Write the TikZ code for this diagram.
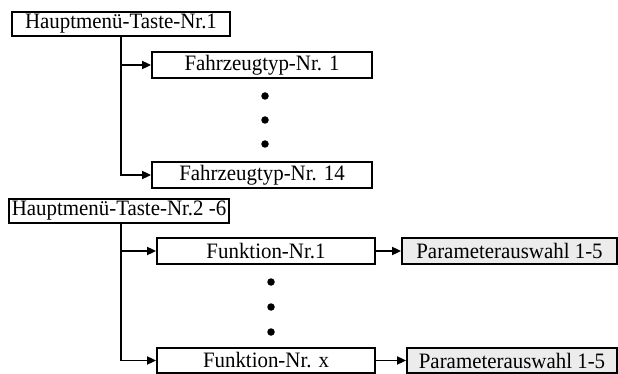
\documentclass[tikz,border=0pt]{standalone}
\usepackage{fontspec}
\setmainfont[FakeStretch=0.95]{Liberation Serif}
\usetikzlibrary{arrows.meta}
\definecolor{paramgray}{HTML}{ECECEC}
\begin{document}
\begin{tikzpicture}[x=1pt,y=-1pt,
  box/.style={draw=black,line width=1.8pt,rectangle,inner sep=0pt,
    font=\fontsize{22}{26}\selectfont},
  pbox/.style={box,fill=paramgray},
  conn/.style={line width=1.8pt,-{Triangle[length=9pt,width=8pt]}},
  dot/.style={circle,fill=black,inner sep=0pt,minimum size=7.5pt}]
\useasboundingbox (0,0) rectangle (618,374);
% upper group
\node[box,minimum width=218pt,minimum height=24pt] (h1) at (121,24) {Hauptmenü-Taste-Nr.1};
\node[box,minimum width=220pt,minimum height=26pt] (f1) at (262,65) {Fahrzeugtyp-Nr. 1};
\node[box,minimum width=220pt,minimum height=26pt] (f14) at (262,175) {Fahrzeugtyp-Nr. 14};
\node[dot] (d1) at (265,96) {};
\node[dot] (d2) at (265,120) {};
\node[dot] (d3) at (265,144) {};
\draw[conn] (h1.south) |- (f1.west);
\draw[conn] (h1.south) |- (f14.west);
% lower group
\node[box,minimum width=220pt,minimum height=24pt] (h2) at (119,211) {Hauptmenü-Taste-Nr.2 -6};
\coordinate (h2b) at (121,223);
\node[box,minimum width=218pt,minimum height=26pt] (fn1) at (266,251) {Funktion-Nr.1};
\node[box,minimum width=218pt,minimum height=25pt] (fnx) at (266,360.5) {Funktion-Nr. x};
\node[pbox,minimum width=215pt,minimum height=26pt] (p1) at (509.5,251) {Parameterauswahl 1-5};
\node[pbox,minimum width=210pt,minimum height=25pt] (px) at (512,360.5) {Parameterauswahl 1-5};
\node[dot] (e1) at (271,282) {};
\node[dot] (e2) at (271,307) {};
\node[dot] (e3) at (271,332) {};
\draw[conn] (h2b) |- (fn1.west);
\draw[conn] (h2b) |- (fnx.west);
\draw[conn] (fn1) -- (p1);
\draw[conn] (fnx) -- (px);
\end{tikzpicture}
\end{document}
